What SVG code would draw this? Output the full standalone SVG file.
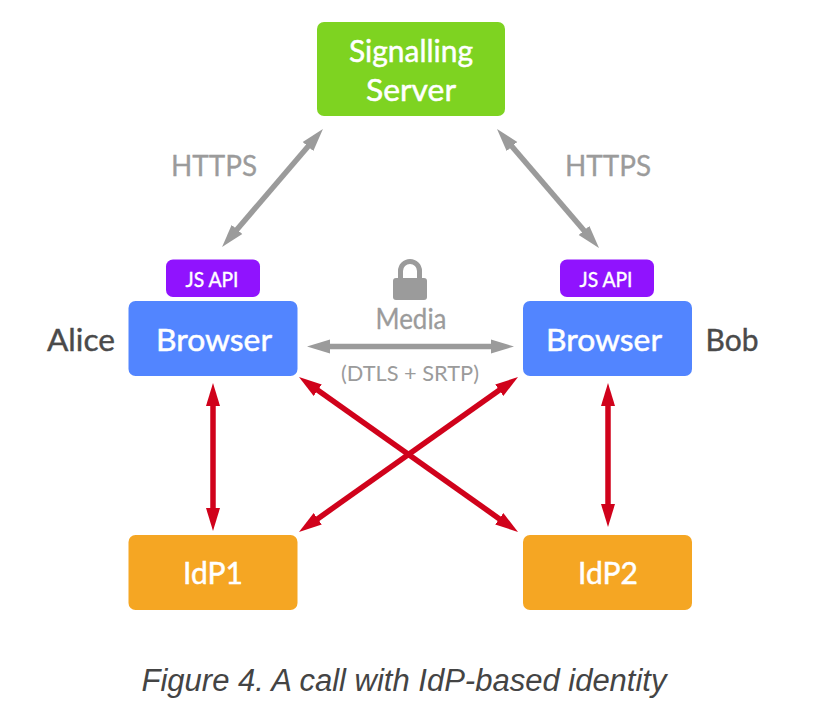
<svg xmlns="http://www.w3.org/2000/svg" width="821" height="717" viewBox="0 0 821 717">
<defs>
<marker id="g" markerUnits="userSpaceOnUse" markerWidth="24" markerHeight="16" refX="2" refY="8" orient="auto-start-reverse"><path d="M0 1L23 8L0 15z" fill="#9b9b9b"/></marker>
<marker id="r" markerUnits="userSpaceOnUse" markerWidth="24" markerHeight="16" refX="2" refY="8" orient="auto-start-reverse"><path d="M0 1L23 8L0 15z" fill="#d0021b"/></marker>
</defs>
<style>
.t{font-family:Lato,"Noto Sans",sans-serif;text-anchor:middle}
.w{fill:#fff;stroke:#fff;stroke-width:.5px;font-size:31px}
.gl{fill:#9b9b9b;stroke:#9b9b9b;stroke-width:.3px;font-size:28px}
.k{fill:#4a4a4a;stroke:#4a4a4a;stroke-width:.4px;font-size:30px}
.ga{stroke:#9b9b9b;stroke-width:5.5;fill:none;marker-start:url(#g);marker-end:url(#g)}
.ra{stroke:#d0021b;stroke-width:5.5;fill:none;marker-start:url(#r);marker-end:url(#r)}
</style>
<rect width="821" height="717" fill="#fff"/>
<g id="connectors">
<path class="ga" d="M309.3 145L235.7 231"/>
<path class="ga" d="M510.7 145L585.3 232"/>
<path class="ga" d="M328 346.5L493 346.5"/>
<path class="ra" d="M213 404L213 510"/>
<path class="ra" d="M608 404L608 506"/>
<path class="ra" d="M316.1 389.1L500.9 519.9"/>
<path class="ra" d="M500.9 389.1L316.1 519.9"/>
</g>
<g id="signalling"><rect x="317" y="22" width="188" height="94" rx="7" fill="#7ed321"/><text class="t w" x="411" y="62" textLength="124" lengthAdjust="spacingAndGlyphs">Signalling</text><text class="t w" x="411" y="101" textLength="90" lengthAdjust="spacingAndGlyphs">Server</text></g>
<g id="jsapi-a"><rect x="166" y="259.500" width="94" height="37.500" rx="7" fill="#9013fe"/><text class="t" x="212" y="287" fill="#fff" stroke="#fff" stroke-width=".4" font-size="21" textLength="53" lengthAdjust="spacingAndGlyphs">JS API</text></g>
<g id="jsapi-b"><rect x="560" y="259.500" width="94" height="37.500" rx="7" fill="#9013fe"/><text class="t" x="606" y="287" fill="#fff" stroke="#fff" stroke-width=".4" font-size="21" textLength="53" lengthAdjust="spacingAndGlyphs">JS API</text></g>
<g id="browser-a"><rect x="128.500" y="301" width="169" height="75" rx="7" fill="#5285ff"/><text class="t w" x="214" y="351" textLength="116" lengthAdjust="spacingAndGlyphs">Browser</text></g>
<g id="browser-b"><rect x="523" y="301" width="169" height="75" rx="7" fill="#5285ff"/><text class="t w" x="604" y="351" textLength="116" lengthAdjust="spacingAndGlyphs">Browser</text></g>
<g id="idp1"><rect x="128.500" y="535" width="169" height="75" rx="7" fill="#f5a623"/><text class="t w" x="213" y="584" textLength="60" lengthAdjust="spacingAndGlyphs">IdP1</text></g>
<g id="idp2"><rect x="523" y="535" width="169" height="75" rx="7" fill="#f5a623"/><text class="t w" x="608" y="584" textLength="60" lengthAdjust="spacingAndGlyphs">IdP2</text></g>
<g id="labels">
<text class="t gl" x="214" y="176" textLength="86" lengthAdjust="spacingAndGlyphs">HTTPS</text>
<text class="t gl" x="608" y="176" textLength="86" lengthAdjust="spacingAndGlyphs">HTTPS</text>
<text class="t k" x="81" y="351" textLength="68" lengthAdjust="spacingAndGlyphs">Alice</text>
<text class="t k" x="732" y="351" textLength="53" lengthAdjust="spacingAndGlyphs">Bob</text>
<text class="t gl" x="411" y="329" textLength="71" lengthAdjust="spacingAndGlyphs">Media</text>
<text class="t" x="410" y="381" fill="#9b9b9b" font-size="21" textLength="138" lengthAdjust="spacingAndGlyphs">(DTLS + SRTP)</text>
<rect x="393" y="278" width="34" height="22" rx="3" fill="#9b9b9b"/>
<path d="M400.500 279V271a9.500 9.500 0 0 1 19 0V279" fill="none" stroke="#9b9b9b" stroke-width="5"/>
<text x="404" y="691" font-family="Liberation Sans,Arial,sans-serif" font-style="italic" font-size="31" fill="#444" text-anchor="middle">Figure 4. A call with IdP-based identity</text>
</g>
</svg>
